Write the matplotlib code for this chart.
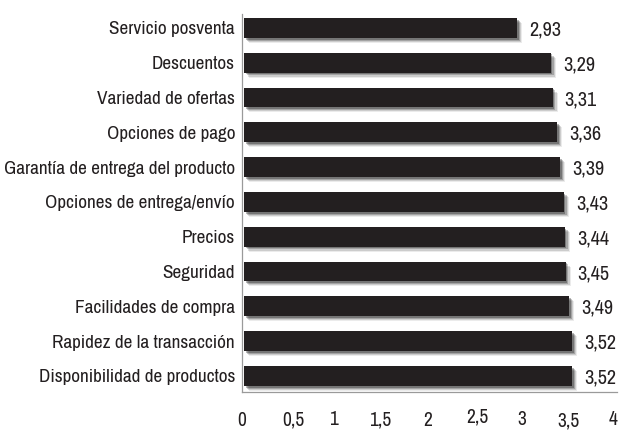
import matplotlib
matplotlib.use('Agg')
import matplotlib.pyplot as plt
import matplotlib.patheffects as pe
import matplotlib.transforms as mtransforms

# data (top to bottom)
categories = [
    'Servicio posventa',
    'Descuentos',
    'Variedad de ofertas',
    'Opciones de pago',
    'Garantía de entrega del producto',
    'Opciones de entrega/envío',
    'Precios',
    'Seguridad',
    'Facilidades de compra',
    'Rapidez de la transacción',
    'Disponibilidad de productos',
]
values = [2.93, 3.29, 3.31, 3.36, 3.39, 3.43, 3.44, 3.45, 3.49, 3.52, 3.52]
xticks = [0, 0.5, 1, 1.5, 2, 2.5, 3, 3.5, 4]
xtick_labels = ['0', '0,5', '1', '1,5', '2', '2,5', '3', '3,5', '4']

FONT = ['Archivo Narrow', 'DejaVu Sans']
C_BAR = '#231f20'
C_TXT = '#231f20'
C_AXIS = '#9a9a9a'

plt.rcParams['font.family'] = FONT

fig = plt.figure(figsize=(6.24, 4.30), dpi=100)
ax = fig.add_axes([242 / 624, 1 - 392 / 430, 375 / 624, 378 / 430])

ypos = list(range(len(categories)))
shadow = [
    pe.SimplePatchShadow(offset=(3.6, -3.6), shadow_rgbFace='#000000', alpha=0.08),
    pe.SimplePatchShadow(offset=(2.8, -2.8), shadow_rgbFace='#000000', alpha=0.13),
    pe.SimplePatchShadow(offset=(2.0, -2.0), shadow_rgbFace='#000000', alpha=0.20),
    pe.SimplePatchShadow(offset=(1.2, -1.2), shadow_rgbFace='#000000', alpha=0.28),
    pe.Normal(),
]
bars = ax.barh(ypos, values, height=0.57, color=C_BAR, zorder=3)
for b in bars:
    b.set_path_effects(shadow)

for y, v in zip(ypos, values):
    ax.annotate(f'{v:.2f}'.replace('.', ','), xy=(v, y), xytext=(12, -2),
                textcoords='offset pixels', ha='left', va='center',
                fontsize=14.5, color=C_TXT)

ax.set_xlim(-0.02, 4.0)
ax.set_ylim(len(categories) - 0.54, -0.4)

ax.set_yticks(ypos)
ax.set_yticklabels(categories, fontsize=13.8, color=C_TXT)
ax.set_xticks(xticks)
ax.set_xticklabels(xtick_labels, fontsize=14, color=C_TXT)
ax.tick_params(axis='both', length=0)
ax.tick_params(axis='y', pad=5)
ax.tick_params(axis='x', pad=13.5)

# slight irregular placement of the x tick labels, as in the source
jitter = [(-2, 0), (3, 0), (-4, 1), (-4, 0), (-3, 0), (0, 3), (-2, 1), (-2, -1), (-4, 1)]
for lab, (dx, dy) in zip(ax.get_xticklabels(), jitter):
    lab.set_transform(lab.get_transform() +
                      mtransforms.Affine2D().translate(dx, dy))

for s in ['top', 'right']:
    ax.spines[s].set_visible(False)
for s in ['left', 'bottom']:
    ax.spines[s].set_color(C_AXIS)
    ax.spines[s].set_linewidth(0.9)

fig.savefig('out.png', dpi=100, facecolor='white')
